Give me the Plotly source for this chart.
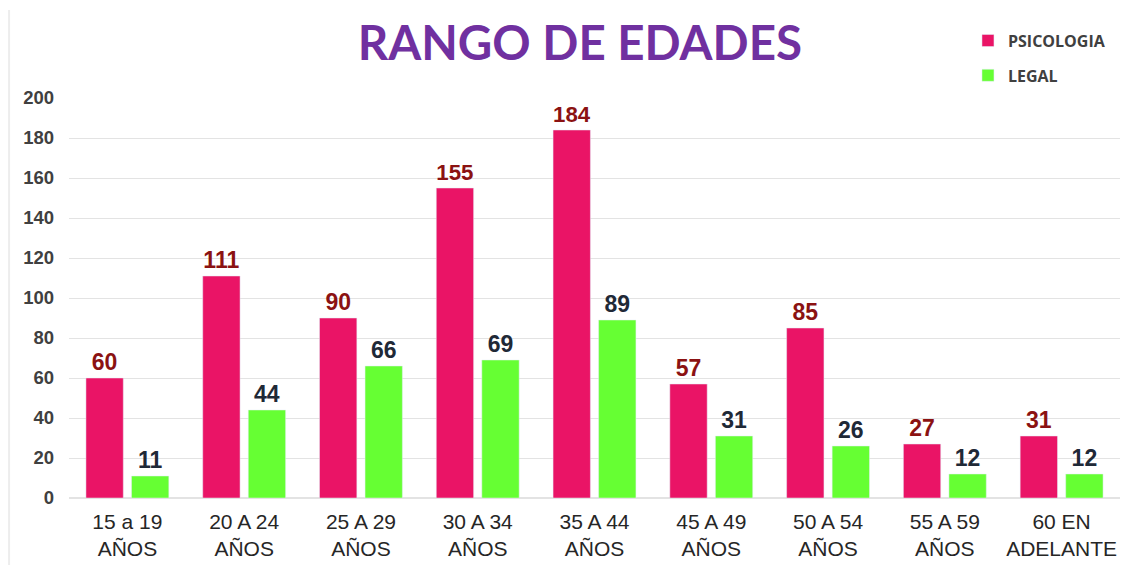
import plotly.graph_objects as go

categories = ["15 a 19<br>AÑOS", "20 A 24<br>AÑOS", "25 A 29<br>AÑOS", "30 A 34<br>AÑOS",
              "35 A 44<br>AÑOS", "45 A 49<br>AÑOS", "50 A 54<br>AÑOS", "55 A 59<br>AÑOS",
              "60 EN<br>ADELANTE"]
psicologia = [60, 111, 90, 155, 184, 57, 85, 27, 31]
legal = [11, 44, 66, 69, 89, 31, 26, 12, 12]
y_ticks = [0, 20, 40, 60, 80, 100, 120, 140, 160, 180, 200]

PINK = "#EA1466"
GREEN = "#66FF33"

fig = go.Figure()
fig.add_trace(go.Bar(
    name="<b>PSICOLOGIA</b>", x=categories, y=psicologia, marker_color=PINK,
    text=psicologia, texttemplate="<b>%{text}</b>", textposition="outside", cliponaxis=False,
    textfont=dict(family="Arial", size=23, color="#8B1212"), legendgroup="a",
))
fig.add_trace(go.Bar(
    name="<b>LEGAL</b>", x=categories, y=legal, marker_color=GREEN,
    text=legal, texttemplate="<b>%{text}</b>", textposition="outside", cliponaxis=False,
    textfont=dict(family="Arial", size=23, color="#1F2937"), legendgroup="b",
))

fig.update_layout(
    width=1137, height=557,
    paper_bgcolor="white", plot_bgcolor="white",
    margin=dict(l=61, r=25, t=90, b=67, autoexpand=False),
    barmode="group", bargap=0.22, bargroupgap=0.18,
    title=dict(text="<b>RANGO DE EDADES</b>", x=0.503, xanchor="center", y=0.936, yanchor="middle",
               font=dict(family="Lato", size=47.5, color="#7030A0")),
    legend=dict(x=0.8443, y=0.972, xref="container", yref="container", yanchor="top", xanchor="left",
                font=dict(family="Open Sans", size=16, color="#404040"),
                itemwidth=30, tracegroupgap=11, bgcolor="rgba(0,0,0,0)"),
    showlegend=True,
)
fig.update_xaxes(showgrid=False, showline=False, ticks="", ticklabelstandoff=9,
                 tickfont=dict(family="Arial", size=21, color="#262626"))
fig.update_yaxes(range=[0, 200], tickvals=y_ticks, ticktext=[f"<b>{v}</b>" for v in y_ticks],
                 showgrid=True, gridcolor="#E3E3E3", gridwidth=1,
                 zeroline=True, zerolinecolor="#E3E3E3", showline=False, ticks="",
                 tickfont=dict(family="Arial", size=18.5, color="#404040"),
                 ticklabelstandoff=14)
fig.add_shape(type="line", xref="paper", yref="paper", x0=-0.057, x1=-0.057, y0=-0.1675, y1=1.22,
              line=dict(color="#EDEDED", width=2))
fig.write_html("out.html")
